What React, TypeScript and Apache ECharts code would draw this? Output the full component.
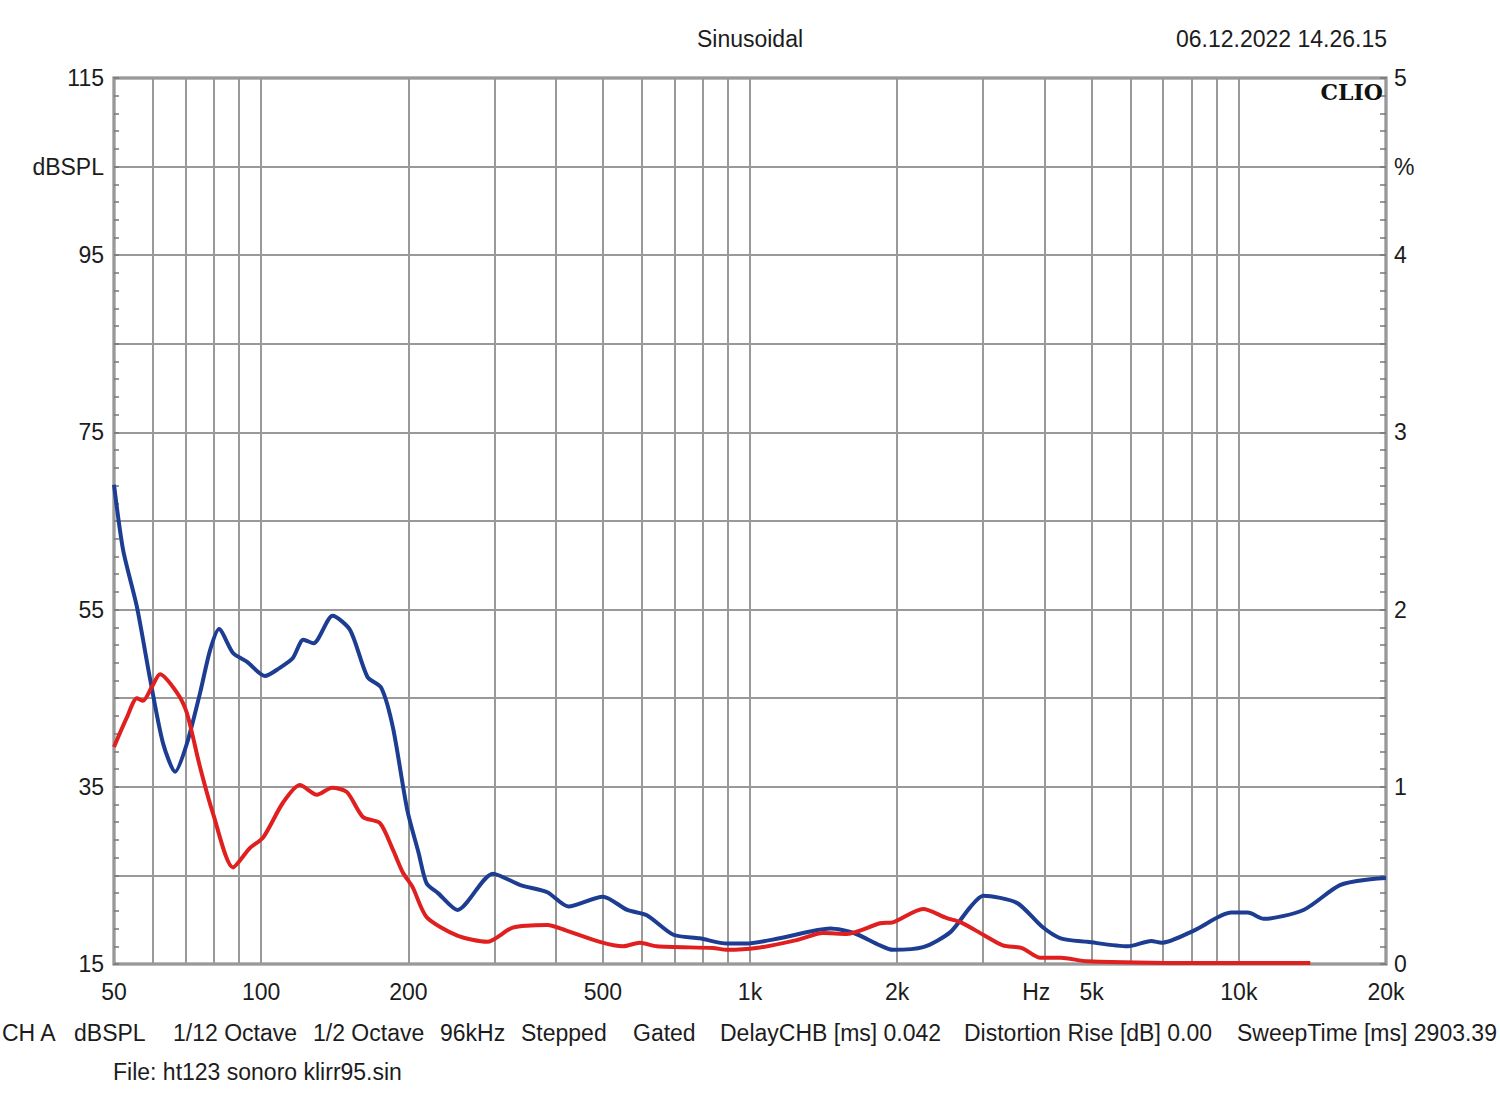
import React, { useEffect, useRef } from "react";
import * as echarts from "echarts";

// Blue curve (Hz, dB)
const blueFreq = [50, 52.2, 55.7, 59.3, 63, 66.7, 70.5, 75, 78.6, 82, 87.6, 93.6, 101.8, 109, 116, 122, 128, 140, 152, 165, 176, 186, 199, 210, 218, 230, 252, 298, 339, 385, 425, 500, 561, 615, 697, 789, 898, 980, 1150, 1460, 1630, 1845, 1960, 2260, 2570, 2820, 3000, 3515, 3960, 4320, 4900, 5930, 6620, 6950, 8110, 9650, 10430, 11250, 13560, 16100, 18800, 20000];
const blueDb = [69.1, 61.7, 55.3, 47.1, 39.9, 36.7, 39.9, 45.6, 50.4, 52.8, 50.1, 49.1, 47.5, 48.4, 49.5, 51.6, 51.2, 54.3, 52.7, 47.4, 46.2, 41.7, 32.4, 27.5, 24.1, 23.0, 21.1, 25.2, 23.9, 23.1, 21.5, 22.6, 21.1, 20.5, 18.3, 17.9, 17.3, 17.3, 17.9, 19.0, 18.5, 17.1, 16.6, 16.9, 18.6, 21.4, 22.7, 21.9, 19.2, 17.9, 17.5, 17.0, 17.6, 17.4, 18.8, 20.8, 20.8, 20.1, 21.1, 23.9, 24.6, 24.7];

// Red curve (Hz, dB)
const redFreq = [50, 53.1, 55.7, 57.3, 59.8, 62.1, 67.3, 70.5, 75, 79.7, 87.6, 94.9, 101, 110.8, 120, 130, 139.7, 149.8, 161.5, 175, 186, 195, 204, 218, 252, 290, 327, 385, 420, 493, 550, 595, 645, 840, 898, 1030, 1245, 1410, 1580, 1845, 1960, 2260, 2520, 2700, 3000, 3290, 3600, 3925, 4320, 4900, 8110, 14000];
const redDb = [39.5, 42.8, 45.0, 44.7, 46.3, 47.7, 45.6, 43.3, 37.2, 32.0, 25.9, 28.1, 29.3, 33.2, 35.2, 34.1, 34.9, 34.4, 31.6, 30.9, 27.9, 25.3, 23.7, 20.3, 18.2, 17.5, 19.1, 19.4, 18.8, 17.5, 17.0, 17.4, 17.0, 16.8, 16.6, 16.8, 17.7, 18.5, 18.4, 19.6, 19.7, 21.2, 20.2, 19.7, 18.3, 17.1, 16.8, 15.7, 15.7, 15.3, 15.1, 15.1];

// Axes
const gridFreqs = [50, 60, 70, 80, 90, 100, 200, 300, 400, 500, 600, 700, 800, 900, 1000, 2000, 3000, 4000, 5000, 6000, 7000, 8000, 9000, 10000, 20000];
const xLabelFreqs = [50, 100, 200, 500, 1000, 2000, 3850, 5000, 10000, 20000];
const xLabelTexts = ["50", "100", "200", "500", "1k", "2k", "Hz", "5k", "10k", "20k"];
const leftLabelValues = [15, 35, 55, 75, 95, 105, 115];
const leftLabelTexts = ["15", "35", "55", "75", "95", "dBSPL", "115"];
const rightLabelValues = [0, 1, 2, 3, 4, 4.5, 5];
const rightLabelTexts = ["0", "1", "2", "3", "4", "%", "5"];

// Texts
const titleText = "Sinusoidal";
const dateText = "06.12.2022 14.26.15";
const brandText = "CLIO";
const footerItems = ["CH A", "dBSPL", "1/12 Octave", "1/2 Octave", "96kHz", "Stepped", "Gated", "DelayCHB [ms] 0.042", "Distortion Rise [dB] 0.00", "SweepTime [ms] 2903.39"];
const footerX = [2, 74, 173, 313, 440, 521, 633, 720, 964, 1237];
const fileText = "File: ht123 sonoro klirr95.sin";

const FONT = "'Liberation Sans', Arial, sans-serif";
const TXT = "#1c1c1c";
const FS = 23;

export default function App() {
  const ref = useRef<HTMLDivElement>(null);
  useEffect(() => {
    if (!ref.current) return;
    const chart = echarts.init(ref.current, undefined, { renderer: "svg" });
    const lg = (f: number) => Math.log10(f);
    const near = (a: number, b: number) => Math.abs(a - b) < 1e-6;
    const leftTicks: number[] = [];
    for (let v = 15; v <= 115; v += 2) leftTicks.push(v);

    const option: any = {
      animation: false,
      backgroundColor: "#ffffff",
      grid: {
        left: 114,
        top: 78,
        width: 1272,
        height: 886,
        show: true,
        borderColor: "#777777",
        borderWidth: 3,
        backgroundColor: "#ffffff",
      },
      xAxis: {
        type: "value",
        min: lg(50),
        max: lg(20000),
        axisLine: { show: false },
        axisTick: { show: true, length: 0, customValues: gridFreqs.map(lg) },
        splitLine: { show: true, lineStyle: { color: "#999999", width: 2 } },
        axisLabel: {
          customValues: xLabelFreqs.map(lg),
          margin: 16,
          fontFamily: FONT,
          fontSize: FS,
          color: TXT,
          formatter: (v: number) => {
            const i = xLabelFreqs.findIndex((f) => near(lg(f), v));
            return i >= 0 ? xLabelTexts[i] : "";
          },
        },
      },
      yAxis: [
        {
          type: "value",
          position: "left",
          min: 15,
          max: 115,
          axisLine: { show: false },
          splitLine: { show: false },
          axisTick: { show: true, inside: true, length: 5, customValues: leftTicks, lineStyle: { color: "#777777", width: 1.5 } },
          axisLabel: {
            customValues: leftLabelValues,
            margin: 10,
            fontFamily: FONT,
            fontSize: FS,
            color: TXT,
            formatter: (v: number) => {
              const i = leftLabelValues.findIndex((x) => near(x, v));
              return i >= 0 ? leftLabelTexts[i] : "";
            },
          },
        },
        {
          type: "value",
          position: "right",
          min: 0,
          max: 5,
          interval: 0.5,
          axisLine: { show: false },
          splitLine: { show: true, lineStyle: { color: "#999999", width: 2 } },
          axisTick: { show: true, inside: true, length: 6, lineStyle: { color: "#777777", width: 1.5 } },
          minorTick: { show: true, splitNumber: 5, length: 6, lineStyle: { color: "#777777", width: 1.5 } },
          axisLabel: {
            margin: 8,
            fontFamily: FONT,
            fontSize: FS,
            color: TXT,
            formatter: (v: number) => {
              const i = rightLabelValues.findIndex((x) => near(x, v));
              return i >= 0 ? rightLabelTexts[i] : "";
            },
          },
        },
      ],
      series: [
        {
          type: "line",
          yAxisIndex: 0,
          showSymbol: false,
          smooth: 0.25,
          data: blueFreq.map((f, i) => [lg(f), blueDb[i]]),
          lineStyle: { color: "#1c3d91", width: 4 },
          itemStyle: { color: "#1c3d91" },
          z: 3,
        },
        {
          type: "line",
          yAxisIndex: 0,
          showSymbol: false,
          smooth: 0.25,
          data: redFreq.map((f, i) => [lg(f), redDb[i]]),
          lineStyle: { color: "#e01f1f", width: 4 },
          itemStyle: { color: "#e01f1f" },
          z: 4,
        },
      ],
      graphic: [
        {
          type: "text",
          x: 750,
          y: 39,
          style: { text: titleText, font: `${FS}px ${FONT}`, fill: TXT, textAlign: "center", textVerticalAlign: "middle" },
        },
        {
          type: "text",
          x: 1387,
          y: 39,
          style: { text: dateText, font: `${FS}px ${FONT}`, fill: TXT, textAlign: "right", textVerticalAlign: "middle" },
        },
        {
          type: "text",
          x: 1383,
          y: 92,
          z: 10,
          style: { text: brandText, font: `bold 22px 'DejaVu Serif', serif`, fill: "#111", textAlign: "right", textVerticalAlign: "middle" },
        },
        ...footerItems.map((t, i) => ({
          type: "text",
          x: footerX[i],
          y: 1033,
          style: { text: t, font: `${FS}px ${FONT}`, fill: TXT, textAlign: "left", textVerticalAlign: "middle" },
        })),
        {
          type: "text",
          x: 113,
          y: 1072,
          style: { text: fileText, font: `${FS}px ${FONT}`, fill: TXT, textAlign: "left", textVerticalAlign: "middle" },
        },
      ],
    };
    chart.setOption(option);
    return () => chart.dispose();
  }, []);
  return <div ref={ref} style={{ position: "absolute", left: 0, top: 0, width: 1500, height: 1110, background: "#fff" }} />;
}
